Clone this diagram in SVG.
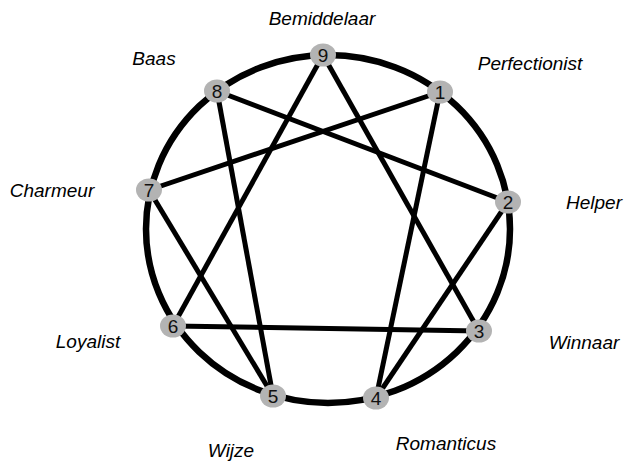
<svg xmlns="http://www.w3.org/2000/svg" width="630" height="461" viewBox="0 0 630 461">
<style>
.lbl{font-family:"Liberation Sans",Arial,sans-serif;font-style:italic;font-size:19px;fill:#000;text-anchor:middle}
.num{font-family:"Liberation Sans",Arial,sans-serif;font-size:19px;fill:#111;text-anchor:middle}
.nd{fill:#b3b3b3}
.ln{stroke:#000;stroke-width:5;fill:none;stroke-linecap:butt}
</style>
<rect width="630" height="461" fill="#fff"/>
<g id="connectors">
<ellipse cx="328" cy="229" rx="182" ry="174" fill="none" stroke="#000" stroke-width="6.5"/>
<line class="ln" x1="323" y1="55" x2="479" y2="331"/>
<line class="ln" x1="323" y1="55" x2="173" y2="326"/>
<line class="ln" x1="173" y1="326" x2="479" y2="331"/>
<line class="ln" x1="440" y1="92" x2="376" y2="398"/>
<line class="ln" x1="376" y1="398" x2="508" y2="202"/>
<line class="ln" x1="508" y1="202" x2="217" y2="91"/>
<line class="ln" x1="217" y1="91" x2="273" y2="396"/>
<line class="ln" x1="273" y1="396" x2="149" y2="190"/>
<line class="ln" x1="149" y1="190" x2="440" y2="92"/>
</g>
<g id="n9"><ellipse class="nd" cx="323" cy="55" rx="13" ry="11.5"/><text class="num" x="323" y="62">9</text></g>
<g id="n1"><ellipse class="nd" cx="440" cy="92" rx="13" ry="11.5"/><text class="num" x="440" y="99">1</text></g>
<g id="n2"><ellipse class="nd" cx="508" cy="202" rx="13" ry="11.5"/><text class="num" x="508" y="209">2</text></g>
<g id="n3"><ellipse class="nd" cx="479" cy="331" rx="13" ry="11.5"/><text class="num" x="479" y="338">3</text></g>
<g id="n4"><ellipse class="nd" cx="376" cy="398" rx="13" ry="11.5"/><text class="num" x="376" y="405">4</text></g>
<g id="n5"><ellipse class="nd" cx="273" cy="396" rx="13" ry="11.5"/><text class="num" x="273" y="403">5</text></g>
<g id="n6"><ellipse class="nd" cx="173" cy="326" rx="13" ry="11.5"/><text class="num" x="173" y="333">6</text></g>
<g id="n7"><ellipse class="nd" cx="149" cy="190" rx="13" ry="11.5"/><text class="num" x="149" y="197">7</text></g>
<g id="n8"><ellipse class="nd" cx="217" cy="91" rx="13" ry="11.5"/><text class="num" x="217" y="98">8</text></g>
<g id="labels">
<text class="lbl" x="322" y="25">Bemiddelaar</text>
<text class="lbl" x="154" y="65">Baas</text>
<text class="lbl" x="530" y="70">Perfectionist</text>
<text class="lbl" x="52" y="197">Charmeur</text>
<text class="lbl" x="594" y="209">Helper</text>
<text class="lbl" x="88" y="348">Loyalist</text>
<text class="lbl" x="584" y="349">Winnaar</text>
<text class="lbl" x="231" y="457">Wijze</text>
<text class="lbl" x="446" y="450">Romanticus</text>
</g>
</svg>
